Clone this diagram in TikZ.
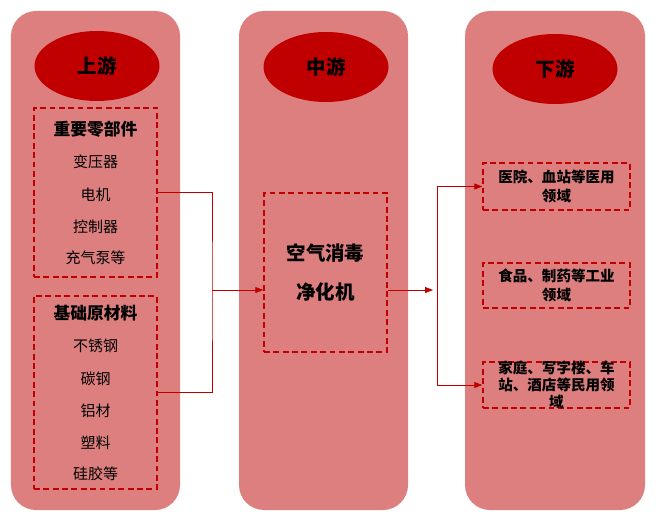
\documentclass[tikz,border=0pt]{standalone}
\usepackage{fontspec}
\setmainfont{Noto Sans CJK SC}
\usepackage{xcolor}
\usepackage{tikz}
\usetikzlibrary{shapes.geometric, arrows.meta, positioning, calc}
\definecolor{columnpink}{RGB}{222, 127, 127}
\definecolor{stagered}{RGB}{192, 0, 0}
\tikzstyle{column} = [rectangle, rounded corners=0.75cm, fill=columnpink, minimum width=5.07cm, minimum height=14.97cm, inner sep=0pt]
\tikzstyle{stage} = [ellipse, fill=stagered, minimum width=3.75cm, minimum height=2.1cm, font=\fontsize{16.6}{20}\selectfont\bfseries]
\tikzstyle{group} = [rectangle, draw=stagered, line width=1.2pt, dash pattern=on 5pt off 3pt, inner sep=0pt]
\tikzstyle{arrow} = [-{Triangle[length=2.4mm, width=1.8mm]}, draw=stagered, line width=0.7pt]
\tikzstyle{link} = [draw=stagered, line width=0.7pt]

\begin{document}
\begin{tikzpicture}[x=0.03cm, y=-0.03cm]
    \useasboundingbox (0, 0) rectangle (656, 517);

    % Columns
    \node[column] (upcol) at (95.5, 260.5) {};
    \node[column] (midcol) at (323.5, 260.5) {};
    \node[column, minimum width=5.4cm] (downcol) at (555, 260.5) {};

    % Stage titles
    \node[stage] (up) at (97, 66) {上游};
    \node[stage] (mid) at (326, 67) {中游};
    \node[stage] (down) at (555, 69) {下游};

    % Upstream groups
    \node[group, minimum width=3.69cm, minimum height=5.07cm] (parts) at (95.5, 192.5) {};
    \node[group, minimum width=3.69cm, minimum height=5.79cm] (materials) at (95.5, 392.5) {};
    \node[font=\fontsize{14.3}{17}\selectfont\bfseries] (partstitle) at (95.5, 129) {重要零部件};
    \node[font=\fontsize{14.3}{17}\selectfont\bfseries] (materialstitle) at (95.5, 313) {基础原材料};
    \foreach \y/\name in {162/变压器, 195/电机, 227/控制器, 258/充气泵等, 346/不锈钢, 379/碳钢, 411/铝材, 443/塑料, 474/硅胶等} {
        \node[font=\fontsize{12.8}{15}\selectfont] at (95.5, \y) {\name};
    }

    % Midstream product
    \node[group, minimum width=3.69cm, minimum height=4.77cm] (purifier) at (325.5, 272.5) {};
    \node[align=center, font=\fontsize{16.6}{34}\selectfont\bfseries] (purifiertext) at (purifier.center) {空气消毒\\净化机};

    % Downstream fields
    \node[group, minimum width=4.41cm, minimum height=1.41cm] (medical) at (556.5, 186.5) {};
    \node[group, minimum width=4.41cm, minimum height=1.35cm] (industry) at (556.5, 285.5) {};
    \node[group, minimum width=4.41cm, minimum height=1.38cm] (civil) at (556.5, 385) {};
    \node[align=center, font=\fontsize{12.4}{16}\selectfont\bfseries] at (medical.center) {医院、血站等医用\\领域};
    \node[align=center, font=\fontsize{12.4}{16}\selectfont\bfseries] at (industry.center) {食品、制药等工业\\领域};
    \node[align=center, font=\fontsize{12.4}{14.5}\selectfont\bfseries] at (civil.center) {家庭、写字楼、车\\站、酒店等民用领\\域};

    % Connectors
    \coordinate (upjoin) at (212, 290);
    \draw[link] (parts.east) -| (upjoin) |- (materials.east);
    \draw[arrow] (upjoin) -- (upjoin -| purifier.west);
    \coordinate (downjoin) at (437, 290);
    \draw[arrow] (downjoin -| purifier.east) -- ($(downjoin)+(-4, 0)$);
    \draw[arrow] (downjoin) |- (medical.west);
    \draw[arrow] (downjoin) |- (civil.west);
\end{tikzpicture}
\end{document}
